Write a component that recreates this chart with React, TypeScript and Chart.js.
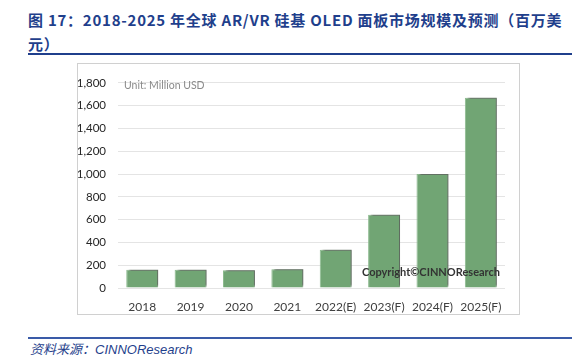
import React, { useEffect, useRef } from "react";
import { Chart, registerables } from "chart.js";

Chart.register(...registerables);

const categories = ["2018", "2019", "2020", "2021", "2022(E)", "2023(F)", "2024(F)", "2025(F)"];
const marketSize = [160, 160, 155, 165, 335, 642, 1000, 1670];
const yTicks = [0, 200, 400, 600, 800, 1000, 1200, 1400, 1600, 1800];

const shadowPlugin = {
  id: "barShadow",
  beforeDatasetsDraw(chart: any) {
    const ctx = chart.ctx;
    ctx.save();
    ctx.shadowColor = "rgba(80,80,80,0.75)";
    ctx.shadowBlur = 2;
    ctx.shadowOffsetX = 3;
    ctx.shadowOffsetY = -2;
  },
  afterDatasetsDraw(chart: any) {
    chart.ctx.restore();
  },
};

export default function App() {
  const ref = useRef<HTMLCanvasElement | null>(null);

  useEffect(() => {
    if (!ref.current) return;
    const chart = new Chart(ref.current, {
      type: "bar",
      data: {
        labels: categories,
        datasets: [
          {
            data: marketSize,
            backgroundColor: "#71A574",
            borderColor: "#8DBB8F",
            borderWidth: 1,
            barPercentage: 0.66,
            categoryPercentage: 1,
          },
        ],
      },
      plugins: [shadowPlugin],
      options: {
        animation: false,
        responsive: false,
        maintainAspectRatio: false,
        layout: { padding: { top: 10, right: 16, left: 0, bottom: 0 } },
        plugins: { legend: { display: false }, tooltip: { enabled: false } },
        scales: {
          x: {
            grid: { display: false },
            border: { display: false },
            ticks: { color: "#404040", font: { family: "Lato", size: 12 }, padding: 4 },
            afterFit(scale: any) {
              scale.height = 27;
            },
          },
          y: {
            min: 0,
            max: 1800,
            afterBuildTicks(scale: any) {
              scale.ticks = yTicks.map((v) => ({ value: v }));
            },
            grid: { color: "#E4E4E4", lineWidth: 1, drawTicks: false },
            border: { display: false },
            ticks: {
              color: "#262626",
              font: { family: "Lato", size: 11.5 },
              padding: 12,
              callback: (v: any) => Number(v).toLocaleString("en-US"),
            },
            afterFit(scale: any) {
              scale.width = 40;
            },
          },
        },
      },
    });
    return () => chart.destroy();
  }, []);

  return (
    <div style={{ position: "absolute", left: 0, top: 0, width: 580, height: 362, background: "#fff", overflow: "hidden" }}>
      <div
        style={{
          position: "absolute",
          left: 28,
          top: 8,
          width: 552,
          fontFamily: "'Noto Sans CJK SC', 'Noto Sans', sans-serif",
          fontWeight: 700,
          fontSize: 15,
          lineHeight: "24px",
          color: "#1F3F8C",
          letterSpacing: 0.75,
          whiteSpace: "nowrap",
        }}
      >
        图 17：2018-2025 年全球 AR/VR 硅基 OLED 面板市场规模及预测（百万美
        <br />
        元）
      </div>
      <div style={{ position: "absolute", left: 28, top: 53, width: 544, height: 2, background: "#1F3F8C" }} />
      <div
        style={{
          position: "absolute",
          left: 77,
          top: 63,
          width: 443,
          height: 252,
          border: "1px solid #D0D0D0",
          boxSizing: "border-box",
        }}
      />
      <canvas ref={ref} width={443} height={251} style={{ position: "absolute", left: 78, top: 64, width: 443, height: 251 }} />
      <div
        style={{
          position: "absolute",
          left: 124,
          top: 79,
          fontFamily: "Lato, sans-serif",
          fontSize: 10.5,
          color: "#8A8A8A",
        }}
      >
        Unit: Million USD
      </div>
      <div
        style={{
          position: "absolute",
          left: 362,
          top: 265,
          fontFamily: "Lato, sans-serif",
          fontWeight: 700,
          fontSize: 11,
          color: "#333",
        }}
      >
        Copyright©CINNOResearch
      </div>
      <div style={{ position: "absolute", left: 28, top: 337, width: 544, height: 2, background: "#3A5BA8" }} />
      <div
        style={{
          position: "absolute",
          left: 30,
          top: 339,
          fontFamily: "'Liberation Sans', 'Noto Sans CJK SC', sans-serif",
          fontStyle: "italic",
          fontSize: 13,
          color: "#1F3F8C",
        }}
      >
        资料来源：CINNOResearch
      </div>
    </div>
  );
}
